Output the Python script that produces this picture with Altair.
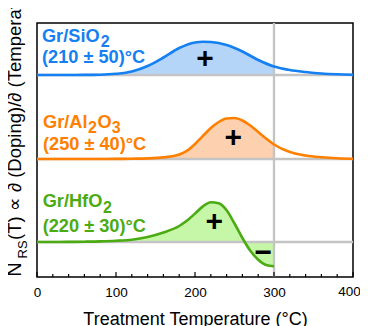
import altair as alt
import pandas as pd

# ---- data (heights in plot units above each curve's baseline) ----
T_sio2 = [0, 20, 40, 60, 80, 100, 120, 140, 160, 180, 200, 210, 220, 240, 260, 280, 300, 320, 340, 360, 380, 400]
h_sio2 = [0, 0, 0, 0.1, 0.3, 1.2, 3.5, 9, 17.5, 27, 32.5, 33.3, 33, 30, 23.5, 15, 8.5, 5, 3, 1.5, 0.7, 0.3]

T_al2o3 = [0, 20, 40, 60, 80, 100, 120, 140, 160, 180, 190, 200, 210, 220, 230, 240, 250, 260, 270, 280, 290, 300, 320, 340, 360, 380, 400]
h_al2o3 = [0, 0, 0, 0, 0, 0.1, 0.3, 0.6, 1.6, 4.5, 8.3, 15, 23, 31, 37, 40.5, 41, 38.5, 33.5, 27, 20.5, 14.5, 7, 3.5, 1.8, 0.8, 0.3]

T_hfo2 = [0, 20, 40, 60, 80, 100, 120, 140, 160, 180, 190, 200, 210, 220, 230, 240, 250, 260, 270, 280, 290, 300]
h_hfo2 = [0, 0, 0.1, 0.3, 0.6, 1.2, 2.3, 5, 9.5, 16, 21.4, 28.4, 35.6, 39.8, 38.7, 31.7, 18.5, 4, -8.8, -17.7, -23, -24.3]

series_names = ["SiO2", "Al2O3", "HfO2"]
baselines = [202, 118, 35]
line_colors = ["#1580f2", "#ff8000", "#4bab12"]
fill_colors = ["#b5d5f8", "#fdd0b0", "#c6f6a8"]

# x tick labels (last one nudged inside, as in the reference)
xlab_values = [0, 100, 200, 300]
xlab_last = ["400"]
xlab_last_T = [395.6]

# labels
lab_text = ["Gr/SiO", "2", "(210 ± 50)°C",
            "Gr/Al", "2", "O", "3", "(250 ± 40)°C",
            "Gr/HfO", "2", "(220 ± 30)°C"]
lab_T = [6.3, 80.6, 6.3, 7.6, 64.6, 76.6, 94.5, 7.6, 7.2, 83.5, 7.2]
lab_y = [235.3, 230.5, 214.3, 148.7, 143.7, 148.7, 143.7, 127, 69.7, 64.5, 44.7]
lab_size = [18.2, 16, 18.2, 18.2, 16, 18.2, 16, 18.2, 18.2, 16, 18.2]
lab_series = [0, 0, 0, 1, 1, 1, 1, 1, 2, 2, 2]

sign_text = ["+", "+", "+", "\u2212"]
sign_T = [212.7, 248.5, 224.4, 286.5]
sign_y = [217.7, 138.7, 55.3, 24]

ytitle_text = ["N", "RS", "(T) \u221d \u2202 (Doping)/\u2202 (Temperature)"]
ytitle_T = [-20.6, -12.3, -20.6]
ytitle_y = [0.3, 18.5, 37]
ytitle_size = [20, 13, 18.5]

tick_T = list(range(0, 401, 20))
tick_len = [5 if t % 100 == 0 else 3 for t in tick_T]

FONT = "Liberation Sans"
LABEL_SIZE = 13.5
LABEL_PAD = 8
xs = alt.Scale(domain=[0, 400], nice=False)
ys = alt.Scale(domain=[0, 254], nice=False)
x_axis = alt.Axis(values=xlab_values, ticks=False, domain=False, grid=False,
                  labelFontSize=LABEL_SIZE, labelPadding=LABEL_PAD, labelFlush=False, labelColor="black",
                  labelFont=FONT, title="Treatment Temperature (°C)", titleFont=FONT,
                  titleFontSize=18, titleFontWeight="normal", titleColor="black",
                  titleY=47, titleBaseline="alphabetic")

def X(field="T"):
    return alt.X(field, type="quantitative", scale=xs, axis=x_axis)

def Y(field="y"):
    return alt.Y(field, type="quantitative", scale=ys, axis=None)

series_T = [T_sio2, T_al2o3, T_hfo2]
series_h = [h_sio2, h_al2o3, h_hfo2]

fills, lines = [], []
for i in range(3):
    df = pd.DataFrame({"T": series_T[i], "h": series_h[i]})
    df["y"] = df["h"] + baselines[i]
    df["base"] = baselines[i]
    dff = df[df["T"] <= 300]
    fills.append(alt.Chart(dff).mark_area(color=fill_colors[i], interpolate="monotone", opacity=1)
                 .encode(x=X(), y=Y(), y2="base"))
    lines.append(alt.Chart(df).mark_line(color=line_colors[i], strokeWidth=2.6, interpolate="monotone")
                 .encode(x=X(), y=Y()))

hdf = pd.DataFrame({"y": baselines, "x0": [0] * 3, "x1": [400] * 3})
hrules = alt.Chart(hdf).mark_rule(color="#c4c4c4", strokeWidth=2.3).encode(
    x=X("x0"), x2="x1", y=Y())
vdf = pd.DataFrame({"T": [300], "y0": [0], "y1": [254]})
vrule = alt.Chart(vdf).mark_rule(color="#c4c4c4", strokeWidth=2.3).encode(
    x=X(), y=Y("y0"), y2="y1")

ldf = pd.DataFrame({"text": lab_text, "T": lab_T, "y": lab_y, "size": lab_size,
                    "color": [line_colors[s] for s in lab_series]})
labels = alt.Chart(ldf).mark_text(align="left", baseline="alphabetic", font=FONT, fontWeight="bold").encode(
    x=X(), y=Y(), text="text", size=alt.Size("size", scale=None), color=alt.Color("color", scale=None))

sdf = pd.DataFrame({"text": sign_text, "T": sign_T, "y": sign_y})
signs = alt.Chart(sdf).mark_text(align="center", baseline="middle", font=FONT, fontWeight="bold",
                                 fontSize=30, color="black").encode(x=X(), y=Y(), text="text")

tdf = pd.DataFrame({"text": ytitle_text, "T": ytitle_T, "y": ytitle_y, "size": ytitle_size})
ytitle = alt.Chart(tdf).mark_text(align="left", baseline="alphabetic", angle=270, font=FONT,
                                  color="black").encode(
    x=X(), y=Y(), text="text", size=alt.Size("size", scale=None))

kdf = pd.DataFrame({"T": tick_T, "y0": [0] * len(tick_T), "len": tick_len})
ticks = alt.Chart(kdf).mark_rule(color="black", strokeWidth=1.2).encode(
    x=X(), y=Y("y0"), y2="len")

l4df = pd.DataFrame({"text": xlab_last, "T": xlab_last_T, "y": [0] * len(xlab_last)})
last_label = alt.Chart(l4df).mark_text(align="center", baseline="top", font=FONT, fontSize=LABEL_SIZE,
                                       color="black", dy=LABEL_PAD).encode(x=X(), y=Y(), text="text")

chart = alt.layer(*fills, hrules, vrule, *lines, labels, signs, ytitle, ticks, last_label).properties(
    width=316, height=254,
    padding={"left": 29, "top": 15, "right": 7, "bottom": 53},
    autosize=alt.AutoSizeParams(type="none"),
).configure_view(stroke="black", strokeWidth=1.5)

chart.save("out.html", embed_options={"renderer": "svg", "actions": False})
